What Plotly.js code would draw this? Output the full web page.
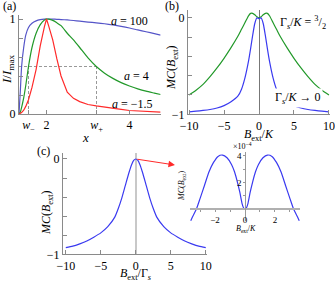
<!DOCTYPE html>
<html>
<head>
<meta charset="utf-8">
<script src="https://cdn.plot.ly/plotly-3.0.1.min.js"></script>
<style>html,body{margin:0;padding:0;background:#fff;}#plot{width:335px;height:282px;}</style>
</head>
<body>
<div id="plot"></div>
<script>
// ---- Panel (a): I/Imax vs x ----
const aX     = [1.337,1.37,1.4,1.45,1.5,1.566,1.65,1.75,1.85,1.95,2.0,2.05,2.15,2.25,2.35,2.5,2.65,2.8,3.0,3.2,3.4,3.6,3.8,4.0,4.2,4.4,4.6,4.75];
const aY100  = [0,0.25,0.5,0.7,0.83,0.91,0.955,0.98,0.993,0.999,1.0,1.0,0.999,0.997,0.994,0.99,0.984,0.977,0.968,0.96,0.95,0.937,0.922,0.905,0.885,0.866,0.846,0.83];
const aY4    = [0,0.02,0.07,0.17,0.3,0.5,0.7,0.85,0.94,0.99,1.0,0.998,0.985,0.96,0.93,0.85,0.78,0.7,0.59,0.5,0.43,0.375,0.33,0.295,0.265,0.24,0.22,0.205];
const aYm15  = [0,0.005,0.015,0.04,0.08,0.15,0.28,0.47,0.72,0.92,1.0,0.93,0.78,0.58,0.40,0.23,0.165,0.13,0.1,0.085,0.07,0.058,0.048,0.037,0.031,0.026,0.022,0.019];
const wMinus = 1.566, wPlus = 3.205, halfLevel = 0.5;
const aTickVals = [wMinus, 2, wPlus, 4];
const aTickText = ['<i>w</i><sub>−</sub>', '2', '<i>w</i><sub>+</sub>', '4'];

// ---- Panel (b): MC vs Bext/K ----
const bX      = [-10,-9,-8,-7,-6,-5,-4,-3,-2.5,-2,-1.5,-1.2,-0.9,-0.6,-0.3,0,0.3,0.6,0.9,1.2,1.5,2,2.5,3,4,5,6,7,8,9,10];
const bYgreen = [-0.80,-0.75,-0.69,-0.61,-0.52,-0.42,-0.31,-0.19,-0.12,-0.05,0.02,0.045,0.045,0.03,0.01,0.0,0.01,0.03,0.045,0.045,0.02,-0.05,-0.12,-0.19,-0.31,-0.42,-0.52,-0.61,-0.69,-0.75,-0.80];
const bYblue  = [-0.975,-0.968,-0.96,-0.95,-0.935,-0.91,-0.87,-0.81,-0.74,-0.62,-0.45,-0.32,-0.18,-0.06,0.0,-0.01,0.0,-0.06,-0.18,-0.32,-0.45,-0.62,-0.74,-0.81,-0.87,-0.91,-0.935,-0.95,-0.96,-0.968,-0.975];

// ---- Panel (c): MC vs Bext/Gamma_s ----
const cX = [-10,-9,-8,-7,-6,-5,-4,-3,-2.5,-2,-1.5,-1,-0.6,-0.3,0,0.3,0.6,1,1.5,2,2.5,3,4,5,6,7,8,9,10];
const cY = [-0.93,-0.915,-0.89,-0.86,-0.82,-0.775,-0.71,-0.61,-0.52,-0.41,-0.28,-0.15,-0.06,-0.015,0,-0.015,-0.06,-0.15,-0.28,-0.41,-0.52,-0.61,-0.71,-0.775,-0.82,-0.86,-0.89,-0.915,-0.93];

// ---- Inset: MC (x1e-4) vs Bext/K ----
const insetX = [-3.62,-3.5,-3.25,-3.0,-2.7,-2.4,-2.1,-1.8,-1.5,-1.2,-0.9,-0.7,-0.5,-0.35,-0.2,-0.1,0,0.1,0.2,0.35,0.5,0.7,0.9,1.2,1.5,1.8,2.1,2.4,2.7,3.0,3.25,3.5,3.62];
const insetY = [-0.85,-0.55,0,0.8,1.8,2.8,3.5,3.95,4.05,3.85,3.35,2.8,2.0,1.3,0.45,0.12,0,0.12,0.45,1.3,2.0,2.8,3.35,3.85,4.05,3.95,3.5,2.8,1.8,0.8,0,-0.55,-0.85];

const arrowTip = {x: 5.6, y: -0.063};

const W = 335, H = 282;
const px = v => v / W;
const py = v => 1 - v / H;
const FONT = 'Liberation Serif';
const AX = '#8a8a8a';
const BLUE = '#3a3af0', BLUEA = '#5555c8', RED = '#ff2a2a', GREEN = '#22992a';

function line(x, y, xa, ya, color, extra) {
  return Object.assign({x: x, y: y, xaxis: xa, yaxis: ya, type: 'scatter', mode: 'lines',
    line: Object.assign({color: color, width: 1.2}, extra || {}), hoverinfo: 'skip', showlegend: false});
}

const traces = [
  line([aX[0], wPlus], [halfLevel, halfLevel], 'x', 'y', '#999', {width: 1, dash: '3px,2px'}),
  line([wMinus, wMinus], [0, halfLevel], 'x', 'y', '#999', {width: 1, dash: '3px,2px'}),
  line([wPlus, wPlus], [0, halfLevel], 'x', 'y', '#999', {width: 1, dash: '3px,2px'}),
  line(aX, aY100, 'x', 'y', BLUEA, {shape: 'spline', smoothing: 0.6}),
  line(aX, aY4, 'x', 'y', GREEN, {shape: 'spline', smoothing: 0.6}),
  line(aX, aYm15, 'x', 'y', RED),
  line(bX, bYgreen, 'x2', 'y2', GREEN, {shape: 'spline', smoothing: 0.6}),
  line(bX, bYblue, 'x2', 'y2', BLUE, {shape: 'spline', smoothing: 0.6}),
  line(cX, cY, 'x3', 'y3', BLUE, {shape: 'spline', smoothing: 0.6}),
  line(insetX, insetY, 'x4', 'y4', BLUE, {shape: 'spline', smoothing: 0.6})
];

const tf = {family: FONT, size: 12, color: '#000'};
const tfs = {family: FONT, size: 9, color: '#000'};
const baseAxis = {showline: true, linecolor: AX, linewidth: 1, ticks: 'inside', ticklen: 4, tickcolor: AX,
  showgrid: false, zeroline: false, tickfont: tf, fixedrange: true, tickmode: 'array'};

const layout = {
  width: W, height: H, margin: {l: 0, r: 0, t: 0, b: 0},
  font: {family: FONT},
  paper_bgcolor: '#fff', plot_bgcolor: 'rgba(0,0,0,0)', showlegend: false,
  xaxis: Object.assign({}, baseAxis, {domain: [px(19), px(160.6)], range: [1.337, 4.75], anchor: 'y',
    tickvals: aTickVals, ticktext: aTickText}),
  yaxis: Object.assign({}, baseAxis, {domain: [py(114), py(15.2)], range: [0, 1.04], anchor: 'x',
    tickvals: [0,0.2,0.4,0.6,0.8,1], ticktext: ['0','','','','','1']}),
  xaxis2: Object.assign({}, baseAxis, {domain: [px(188), px(330)], range: [-10.15, 10.15], anchor: 'y2',
    tickvals: [-10,-5,0,5,10], ticktext: ['−10','−5','0','5','10'],
    zeroline: true, zerolinecolor: '#777', zerolinewidth: 1}),
  yaxis2: Object.assign({}, baseAxis, {domain: [py(114.3), py(10)], range: [-1, 0.08], anchor: 'x2',
    tickvals: [-1,-0.8,-0.6,-0.4,-0.2,0], ticktext: ['−1','','','','','0']}),
  xaxis3: Object.assign({}, baseAxis, {domain: [px(63), px(206.8)], range: [-10.4, 10.15], anchor: 'y3',
    tickvals: [-10,-5,0,5,10], ticktext: ['−10','−5','0','5','10'],
    zeroline: true, zerolinecolor: '#c8c8c8', zerolinewidth: 2}),
  yaxis3: Object.assign({}, baseAxis, {domain: [py(254.3), py(152.8)], range: [-1, 0.065], anchor: 'x3',
    tickvals: [-1,-0.8,-0.6,-0.4,-0.2,0], ticktext: ['−1','','','','','0']}),
  xaxis4: Object.assign({}, baseAxis, {domain: [px(190), px(300)], range: [-3.67, 3.67], anchor: 'free',
    position: py(209.3), linecolor: '#b0b0b0', linewidth: 2, ticks: 'outside', ticklen: 2, tickcolor: '#999',
    tickfont: tfs, tickvals: [-3,-2,-1,0,1,2,3], ticktext: ['','−2','','0','','2','']}),
  yaxis4: Object.assign({}, baseAxis, {domain: [py(221.4), py(151.7)], range: [-0.9, 4.3], anchor: 'free',
    position: px(245.3), linecolor: '#999', linewidth: 1, ticks: 'outside', ticklen: 2, tickcolor: '#999',
    tickfont: tfs, tickvals: [1,2,3,4], ticktext: ['','2','','4']}),
  annotations: [],
};

function ann(x, y, text, size, opts) {
  return Object.assign({xref: 'paper', yref: 'paper', x: px(x), y: py(y), text: text, showarrow: false,
    xanchor: 'center', yanchor: 'middle', font: {family: FONT, size: size, color: '#000'}}, opts || {});
}

layout.annotations.push(
  ann(9, 6, '(a)', 12),
  ann(172, 6, '(b)', 12),
  ann(43, 151, '(c)', 12),
  ann(7, 70, '<i>I</i>/<i>I</i><sub>max</sub>', 13, {textangle: -90}),
  ann(85, 137, '<i>x</i>', 13),
  ann(129, 21, '<i>a</i> = 100', 12),
  ann(136, 76, '<i>a</i> = 4', 12),
  ann(132, 104, '<i>a</i> = −1.5', 12),
  ann(172, 68, '<i>MC</i>(<i>B</i><sub>ext</sub>)', 12, {textangle: -90}),
  ann(259, 135, '<i>B</i><sub>ext</sub>/<i>K</i>', 12),
  ann(303, 22, 'Γ<sub><i>s</i></sub>/<i>K</i> = <sup>3</sup>/<sub>2</sub>', 12),
  ann(298, 98, 'Γ<sub><i>s</i></sub>/<i>K</i> → 0', 12, {bgcolor: '#fff'}),
  ann(47, 213, '<i>MC</i>(<i>B</i><sub>ext</sub>)', 12, {textangle: -90}),
  ann(135, 274, '<i>B</i><sub>ext</sub>/Γ<sub><i>s</i></sub>', 12),
  ann(182, 186, '<i>MC</i>(<i>B</i><sub>ext</sub>)', 8, {textangle: -90}),
  ann(246, 229, '<i>B</i><sub>ext</sub>/<i>K</i>', 8),
  ann(242, 146, '×10<sup>−4</sup>', 8),
  {xref: 'x3', yref: 'y3', x: arrowTip.x, y: arrowTip.y, axref: 'x3', ayref: 'y3', ax: cX[14], ay: cY[14],
   text: '', showarrow: true, arrowhead: 2, arrowsize: 1.3, arrowwidth: 1, arrowcolor: RED, standoff: 0, startstandoff: 0}
);

Plotly.newPlot('plot', traces, layout, {displayModeBar: false, staticPlot: true});
</script>
</body>
</html>
